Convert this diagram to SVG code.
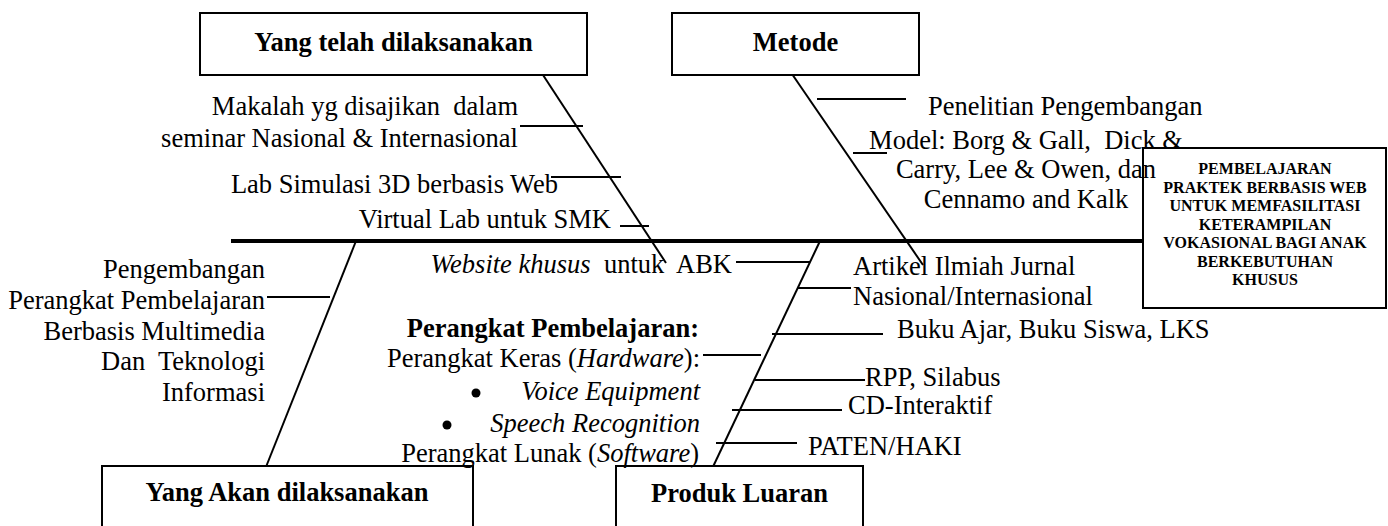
<svg xmlns="http://www.w3.org/2000/svg" width="1388" height="526" viewBox="0 0 1388 526">
<style>
  .t { font-family: "Liberation Serif", "Times New Roman", serif; font-size: 26.5px; fill: #000; }
  .b { font-weight: bold; }
  .i { font-style: italic; }
  .e { text-anchor: end; }
  .m { text-anchor: middle; }
  .box { fill: #fff; stroke: #000; stroke-width: 2; }
  .ln { stroke: #000; stroke-width: 2; fill: none; }
  .ax { stroke: #000; stroke-width: 4; fill: none; }
  .dot { fill: #000; }
  .h { font-family: "Liberation Serif", "Times New Roman", serif; font-size: 16px; font-weight: bold; text-anchor: middle; }
</style>
<rect width="1388" height="526" fill="#fff"/>

<g id="head">
  <rect class="box" x="1143" y="148" width="243" height="160"/>
  <text class="h" x="1265" y="174">PEMBELAJARAN</text>
  <text class="h" x="1265" y="192.5">PRAKTEK BERBASIS WEB</text>
  <text class="h" x="1265" y="211">UNTUK MEMFASILITASI</text>
  <text class="h" x="1265" y="229.5">KETERAMPILAN</text>
  <text class="h" x="1265" y="248">VOKASIONAL BAGI ANAK</text>
  <text class="h" x="1265" y="266.5">BERKEBUTUHAN</text>
  <text class="h" x="1265" y="285">KHUSUS</text>
</g>

<g id="connectors">
  <line class="ax" x1="231" y1="241" x2="1143" y2="241"/>
  <line class="ln" x1="543" y1="75" x2="666" y2="263"/>
  <line class="ln" x1="792" y1="74" x2="923" y2="265"/>
  <line class="ln" x1="356" y1="241" x2="258" y2="487"/>
  <line class="ln" x1="820" y1="241" x2="702" y2="490"/>
  <line class="ln" x1="520" y1="126" x2="583" y2="126"/>
  <line class="ln" x1="551" y1="177" x2="621" y2="177"/>
  <line class="ln" x1="620" y1="226" x2="649" y2="226"/>
  <line class="ln" x1="817" y1="99" x2="906" y2="99"/>
  <line class="ln" x1="853" y1="153" x2="887" y2="153"/>
  <line class="ln" x1="267" y1="297" x2="330" y2="297"/>
  <line class="ln" x1="736" y1="262" x2="810" y2="262"/>
  <line class="ln" x1="797" y1="288" x2="851" y2="288"/>
  <line class="ln" x1="772" y1="334" x2="883" y2="334"/>
  <line class="ln" x1="703" y1="355" x2="761" y2="355"/>
  <line class="ln" x1="755" y1="380" x2="865" y2="380"/>
  <line class="ln" x1="732" y1="410" x2="842" y2="410"/>
  <line class="ln" x1="716" y1="443" x2="797" y2="443"/>
</g>

<g id="node-yang-telah">
  <rect class="box" x="200" y="13" width="387" height="62"/>
  <text class="t b m" x="393.5" y="51">Yang telah dilaksanakan</text>
</g>
<g id="node-metode">
  <rect class="box" x="672" y="13" width="247" height="62"/>
  <text class="t b m" x="795.5" y="51">Metode</text>
</g>
<g id="node-yang-akan">
  <rect class="box" x="102" y="466" width="371" height="80"/>
  <text class="t b m" x="287" y="501">Yang Akan dilaksanakan</text>
</g>
<g id="node-produk">
  <rect class="box" x="616" y="466" width="247" height="80"/>
  <text class="t b m" x="739.5" y="502">Produk Luaran</text>
</g>

<g id="items-yang-telah">
  <text class="t e" x="518" y="115" xml:space="preserve">Makalah yg disajikan  dalam</text>
  <text class="t e" x="518" y="147">seminar Nasional &amp; Internasional</text>
  <text class="t e" x="558" y="193">Lab Simulasi 3D berbasis Web</text>
  <text class="t e" x="611" y="228">Virtual Lab untuk SMK</text>
</g>

<g id="items-metode">
  <text class="t" x="928" y="115">Penelitian Pengembangan</text>
  <text class="t m" x="1026" y="149" xml:space="preserve">Model: Borg &amp; Gall,  Dick &amp;</text>
  <text class="t m" x="1026" y="178">Carry, Lee &amp; Owen, dan</text>
  <text class="t m" x="1026" y="208">Cennamo and Kalk</text>
</g>

<g id="items-yang-akan">
  <text class="t e" x="265" y="278">Pengembangan</text>
  <text class="t e" x="265" y="309">Perangkat Pembelajaran</text>
  <text class="t e" x="265" y="340">Berbasis Multimedia</text>
  <text class="t e" x="265" y="370" xml:space="preserve">Dan  Teknologi</text>
  <text class="t e" x="265" y="401">Informasi</text>
</g>

<g id="items-produk">
  <text class="t e" x="732" y="273" xml:space="preserve"><tspan class="i">Website khusus</tspan>  untuk  ABK</text>
  <text class="t b e" x="699" y="337">Perangkat Pembelajaran:</text>
  <text class="t e" x="700" y="367">Perangkat Keras (<tspan class="i">Hardware</tspan>):</text>
  <circle class="dot" cx="476" cy="393" r="4.5"/>
  <text class="t i e" x="700" y="400">Voice Equipment</text>
  <circle class="dot" cx="447" cy="425" r="4.5"/>
  <text class="t i e" x="700" y="432">Speech Recognition</text>
  <text class="t e" x="699" y="462">Perangkat Lunak (<tspan class="i">Software</tspan>)</text>
  <text class="t" x="853" y="275">Artikel Ilmiah Jurnal</text>
  <text class="t" x="853" y="305">Nasional/Internasional</text>
  <text class="t" x="897" y="338">Buku Ajar, Buku Siswa, LKS</text>
  <text class="t" x="865" y="386">RPP, Silabus</text>
  <text class="t" x="848" y="414">CD-Interaktif</text>
  <text class="t" x="808" y="455">PATEN/HAKI</text>
</g>
</svg>
